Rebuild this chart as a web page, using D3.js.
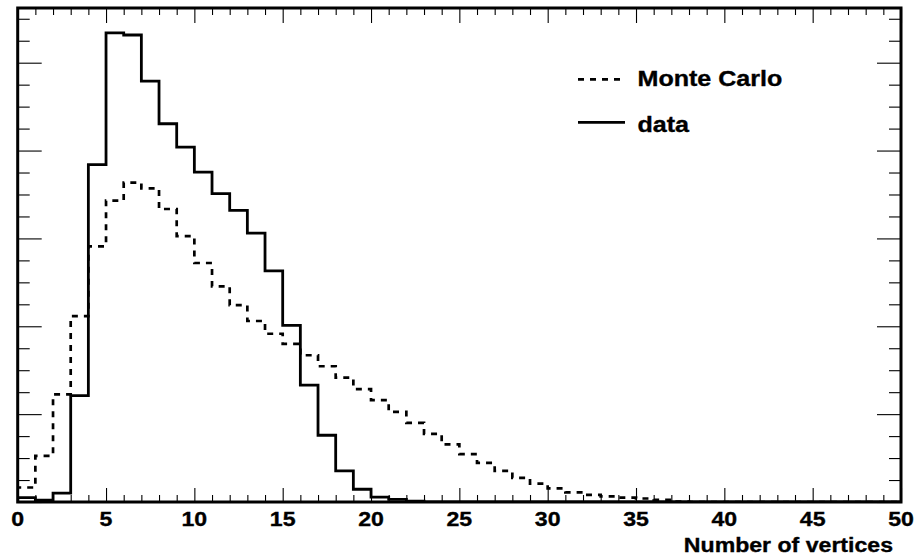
<!DOCTYPE html>
<html><head><meta charset="utf-8">
<script src="https://cdn.jsdelivr.net/npm/d3@7"></script>
<style>body{margin:0;background:#fff;} text{font-family:"Liberation Sans",Arial,Helvetica,sans-serif;font-weight:bold;fill:#000;stroke:#000;stroke-width:0.35px;}</style>
</head><body>
<svg id="c" width="916" height="559"></svg>
<script>
// ---- data (bin width 1, bins starting at 0) ----
const seriesNames = ["Monte Carlo", "data"];
const xTitle = "Number of vertices";
const xTickLabels = ["0","5","10","15","20","25","30","35","40","45","50"];
const dataValues = [0.0010,0.0004,0.0020,0.0242,0.0768,0.1068,0.1063,0.0958,0.0861,0.0808,
                    0.0751,0.0702,0.0664,0.0612,0.0526,0.0402,0.0266,0.0152,0.0071,0.0029,
                    0.0011,0.0006,0.0002];
const mcValues = [0.0033,0.0105,0.0245,0.0423,0.0582,0.0686,0.0727,0.0714,0.0667,0.0605,
                  0.0544,0.0491,0.0448,0.0412,0.0383,0.0360,0.0334,0.0309,0.0283,0.0257,
                  0.0232,0.0205,0.0180,0.0155,0.0131,0.0109,0.0089,0.0071,0.0055,0.0042,
                  0.0031,0.0022,0.0016,0.0013,0.0010,0.0008,0.0005,0.0001];

// ---- layout ----
const svg = d3.select("#c");
const L = 17.7, R = 901, T = 8, B = 502;
const x = d3.scaleLinear().domain([0, 50]).range([L, R]);
const y = d3.scaleLinear().domain([0, 0.11245]).range([B, T]);

svg.append("clipPath").attr("id","clip").append("rect")
  .attr("x", L).attr("y", T).attr("width", R - L).attr("height", B - T);

function stepPoints(vals){
  const pts = [[0, 0]];
  vals.forEach((v, i) => { pts.push([i, v]); pts.push([i + 1, v]); });
  pts.push([vals.length, 0]);
  pts.push([50, 0]);
  return pts;
}
const line = d3.line().x(d => x(d[0])).y(d => y(d[1]));

const g = svg.append("g").attr("clip-path", "url(#clip)");
g.append("path").attr("d", line(stepPoints(mcValues)))
  .attr("fill","none").attr("stroke","#000").attr("stroke-width",2.7)
  .attr("stroke-dasharray","6,6");
g.append("path").attr("d", line(stepPoints(dataValues)))
  .attr("fill","none").attr("stroke","#000").attr("stroke-width",2.8);

// ---- axes ticks (inward) ----
function styleAxis(sel){ sel.select(".domain").remove(); sel.selectAll("text").remove();
  sel.selectAll("line").attr("stroke","#000").attr("stroke-width",1.1); }
const majX = d3.range(0, 51, 5), minX = d3.range(0, 51, 1).filter(v => v % 5);
svg.append("g").attr("transform",`translate(0,${B})`)
  .call(d3.axisBottom(x).tickValues(majX).tickSize(-14)).call(styleAxis);
svg.append("g").attr("transform",`translate(0,${B})`)
  .call(d3.axisBottom(x).tickValues(minX).tickSize(-7)).call(styleAxis);
svg.append("g").attr("transform",`translate(0,${T})`)
  .call(d3.axisTop(x).tickValues(majX).tickSize(-15)).call(styleAxis);
svg.append("g").attr("transform",`translate(0,${T})`)
  .call(d3.axisTop(x).tickValues(minX).tickSize(-7)).call(styleAxis);
const majY = d3.range(0, 0.1001, 0.02), minY = d3.range(0, 0.1125, 0.005).filter(v => Math.abs(v/0.02 - Math.round(v/0.02)) > 1e-6);
svg.append("g").attr("transform",`translate(${L},0)`)
  .call(d3.axisLeft(y).tickValues(majY).tickSize(-24)).call(styleAxis);
svg.append("g").attr("transform",`translate(${L},0)`)
  .call(d3.axisLeft(y).tickValues(minY).tickSize(-12)).call(styleAxis);
svg.append("g").attr("transform",`translate(${R},0)`)
  .call(d3.axisRight(y).tickValues(majY).tickSize(-24)).call(styleAxis);
svg.append("g").attr("transform",`translate(${R},0)`)
  .call(d3.axisRight(y).tickValues(minY).tickSize(-12)).call(styleAxis);

// frame
svg.append("rect").attr("x", L).attr("y", T).attr("width", R - L).attr("height", B - T)
  .attr("fill","none").attr("stroke","#000").attr("stroke-width",3);

// tick labels
svg.append("g").selectAll("text").data(majX).join("text")
  .attr("transform", (d) => `translate(${x(d)},526) scale(1.1,1)`)
  .attr("text-anchor","middle").attr("font-size",21)
  .text((d, i) => xTickLabels[i]);

// axis title
svg.append("text").attr("transform",`translate(893,552) scale(1.1,1)`)
  .attr("text-anchor","end").attr("font-size",21).text(xTitle);

// legend
const leg = svg.append("g");
leg.append("line").attr("x1",578).attr("x2",621).attr("y1",79.3).attr("y2",79.3)
  .attr("stroke","#000").attr("stroke-width",2.7).attr("stroke-dasharray","6,6");
leg.append("text").attr("transform",`translate(637.5,85.7) scale(1.14,1)`)
  .attr("font-size",22).text(seriesNames[0]);
leg.append("line").attr("x1",578).attr("x2",625).attr("y1",122.3).attr("y2",122.3)
  .attr("stroke","#000").attr("stroke-width",2.8);
leg.append("text").attr("transform",`translate(637.5,131.7) scale(1.14,1)`)
  .attr("font-size",22).text(seriesNames[1]);
</script>
</body></html>
